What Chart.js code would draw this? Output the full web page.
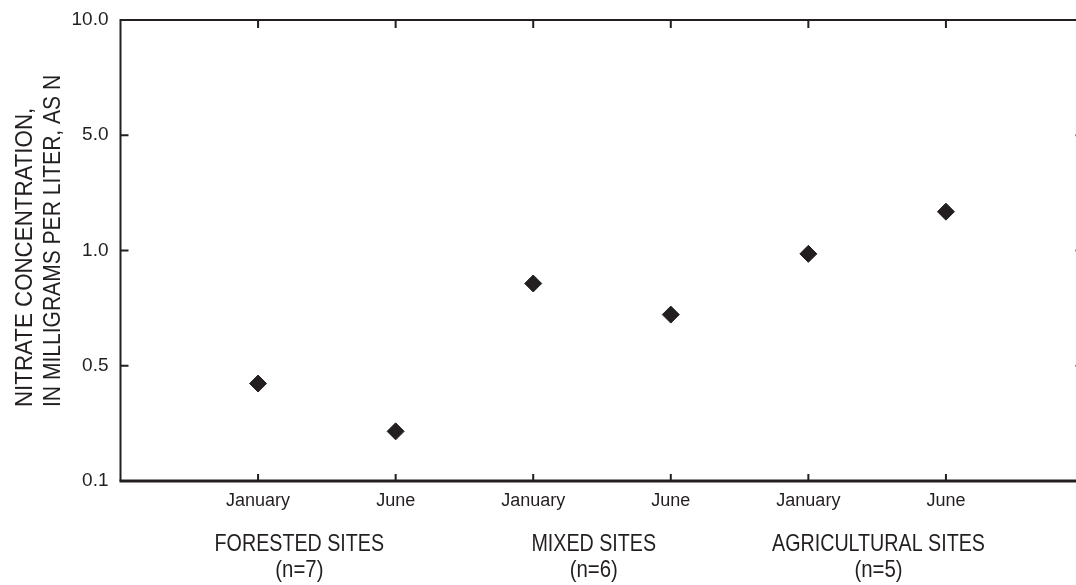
<!DOCTYPE html>
<html>
<head>
<meta charset="utf-8">
<script src="https://cdn.jsdelivr.net/npm/chart.js@4/dist/chart.umd.min.js"></script>
<style>
  html, body { margin: 0; padding: 0; background: #fff; overflow: hidden; }
  #wrap { width: 1093px; height: 585px; overflow: hidden; }
  canvas { display: block; }
</style>
</head>
<body>
<div id="wrap"><canvas id="chart" width="1093" height="585"></canvas></div>
<script>
// Season labels along the bottom axis
const seasons = ['January', 'June', 'January', 'June', 'January', 'June'];
// Land-use groups and their sample counts
const siteGroups = ['FORESTED SITES', 'MIXED SITES', 'AGRICULTURAL SITES'];
const siteCounts = ['(n=7)', '(n=6)', '(n=5)'];
// Median nitrate concentration, mg/L as N, one value per season column
const nitrate = [0.39, 0.20, 0.82, 0.68, 0.98, 1.72];
// Concentration axis: break values, evenly spaced on the page
const yTickValues = [0.1, 0.5, 1, 5, 10];
const yTickLabels = ['0.1', '0.5', '1.0', '5.0', '10.0'];
// Axis title lines
const yTitle = ['NITRATE CONCENTRATION,', 'IN MILLIGRAMS PER LITER, AS N'];
// Where each group caption is centred, in column units
const groupAnchors = [1.3, 3.44, 5.51];

const INK = '#231f20';
const FONT = "'Liberation Sans', Arial, sans-serif";

// Axis with equally spaced break values; log interpolation between breaks
class SegmentedScale extends Chart.LinearScale {
  static id = 'segmented';
  static defaults = {};
  determineDataLimits() {
    this.min = 0;
    this.max = yTickValues.length - 1;
  }
  buildTicks() {
    return yTickValues.map(v => ({ value: v }));
  }
  toSegment(v) {
    const t = yTickValues;
    if (v <= t[0]) return 0;
    for (let i = 0; i < t.length - 1; i++) {
      if (v <= t[i + 1]) {
        return i + Math.log(v / t[i]) / Math.log(t[i + 1] / t[i]);
      }
    }
    return t.length - 1;
  }
  getPixelForValue(v) {
    return super.getPixelForValue(this.toSegment(v));
  }
}
Chart.register(SegmentedScale);

// Narrow lettering: squeeze the text along its own baseline
function condensedText(ctx, text, x, y, sx) {
  ctx.save();
  ctx.translate(x, y);
  ctx.scale(sx, 1);
  ctx.fillText(text, 0, 0);
  ctx.restore();
}

// Frame lines, inward tick marks, axis title and group captions
const framePlugin = {
  id: 'frame',
  beforeDatasetsDraw(chart) {
    const { ctx, chartArea: a, scales } = chart;
    const xs = scales.x, ys = scales.y;
    ctx.save();
    ctx.strokeStyle = INK;
    ctx.lineCap = 'butt';
    // left, top and right
    ctx.lineWidth = 2;
    ctx.beginPath();
    ctx.moveTo(a.left, a.bottom);
    ctx.lineTo(a.left, a.top);
    ctx.lineTo(a.right, a.top);
    ctx.lineTo(a.right, a.bottom);
    ctx.stroke();
    // bottom
    ctx.lineWidth = 3;
    ctx.beginPath();
    ctx.moveTo(a.left - 1, a.bottom);
    ctx.lineTo(a.right, a.bottom);
    ctx.stroke();
    // tick marks pointing into the plot
    ctx.lineWidth = 2;
    ctx.beginPath();
    ys.ticks.forEach((t, i) => {
      const y = ys.getPixelForTick(i);
      ctx.moveTo(a.left, y); ctx.lineTo(a.left + 8, y);
      ctx.moveTo(a.right, y); ctx.lineTo(a.right - 8, y);
    });
    xs.ticks.forEach((t, i) => {
      const x = xs.getPixelForTick(i);
      ctx.moveTo(x, a.top); ctx.lineTo(x, a.top + 8);
      ctx.moveTo(x, a.bottom); ctx.lineTo(x, a.bottom - 7);
    });
    ctx.stroke();

    ctx.fillStyle = INK;
    ctx.font = '24px ' + FONT;
    // group captions
    ctx.textAlign = 'center';
    ctx.textBaseline = 'alphabetic';
    siteGroups.forEach((g, i) => {
      const x = xs.getPixelForValue(groupAnchors[i]);
      condensedText(ctx, g, x, 551, 0.82);
      condensedText(ctx, siteCounts[i], x, 577, 0.85);
    });
    // rotated axis title, both lines starting at the same height
    ctx.save();
    ctx.translate(0, 407);
    ctx.rotate(-Math.PI / 2);
    ctx.textAlign = 'left';
    ctx.textBaseline = 'alphabetic';
    condensedText(ctx, yTitle[0], 0, 32, 0.93);
    condensedText(ctx, yTitle[1], 0, 60, 0.877);
    ctx.restore();
    ctx.restore();
  }
};

new Chart(document.getElementById('chart'), {
  type: 'scatter',
  data: {
    datasets: [{
      data: nitrate.map((v, i) => ({ x: i + 1, y: v })),
      pointStyle: 'rectRot',
      radius: 8.5,
      hoverRadius: 8.5,
      borderWidth: 1,
      backgroundColor: INK,
      borderColor: INK
    }]
  },
  options: {
    responsive: false,
    animation: false,
    events: [],
    layout: { padding: { top: 20, left: 0, right: 7, bottom: 0 } },
    plugins: { legend: { display: false }, tooltip: { enabled: false } },
    scales: {
      x: {
        type: 'linear',
        min: 0,
        max: 7,
        grid: { display: false, drawTicks: false },
        border: { display: false },
        afterBuildTicks: s => { s.ticks = seasons.map((_, i) => ({ value: i + 1 })); },
        afterFit: s => { s.height = 104; s.paddingLeft = 0; s.paddingRight = 0; },
        ticks: {
          autoSkip: false,
          maxRotation: 0,
          padding: 9,
          color: INK,
          font: { family: FONT, size: 18 },
          callback: (v, i) => seasons[i]
        }
      },
      y: {
        type: 'segmented',
        grid: { display: false, drawTicks: false },
        border: { display: false },
        afterFit: s => { s.width = 120.5; s.paddingTop = 0; s.paddingBottom = 0; },
        ticks: {
          padding: 12,
          color: INK,
          font: { family: FONT, size: 19 },
          callback: (v, i) => yTickLabels[i]
        }
      }
    }
  },
  plugins: [framePlugin]
});
</script>
</body>
</html>
